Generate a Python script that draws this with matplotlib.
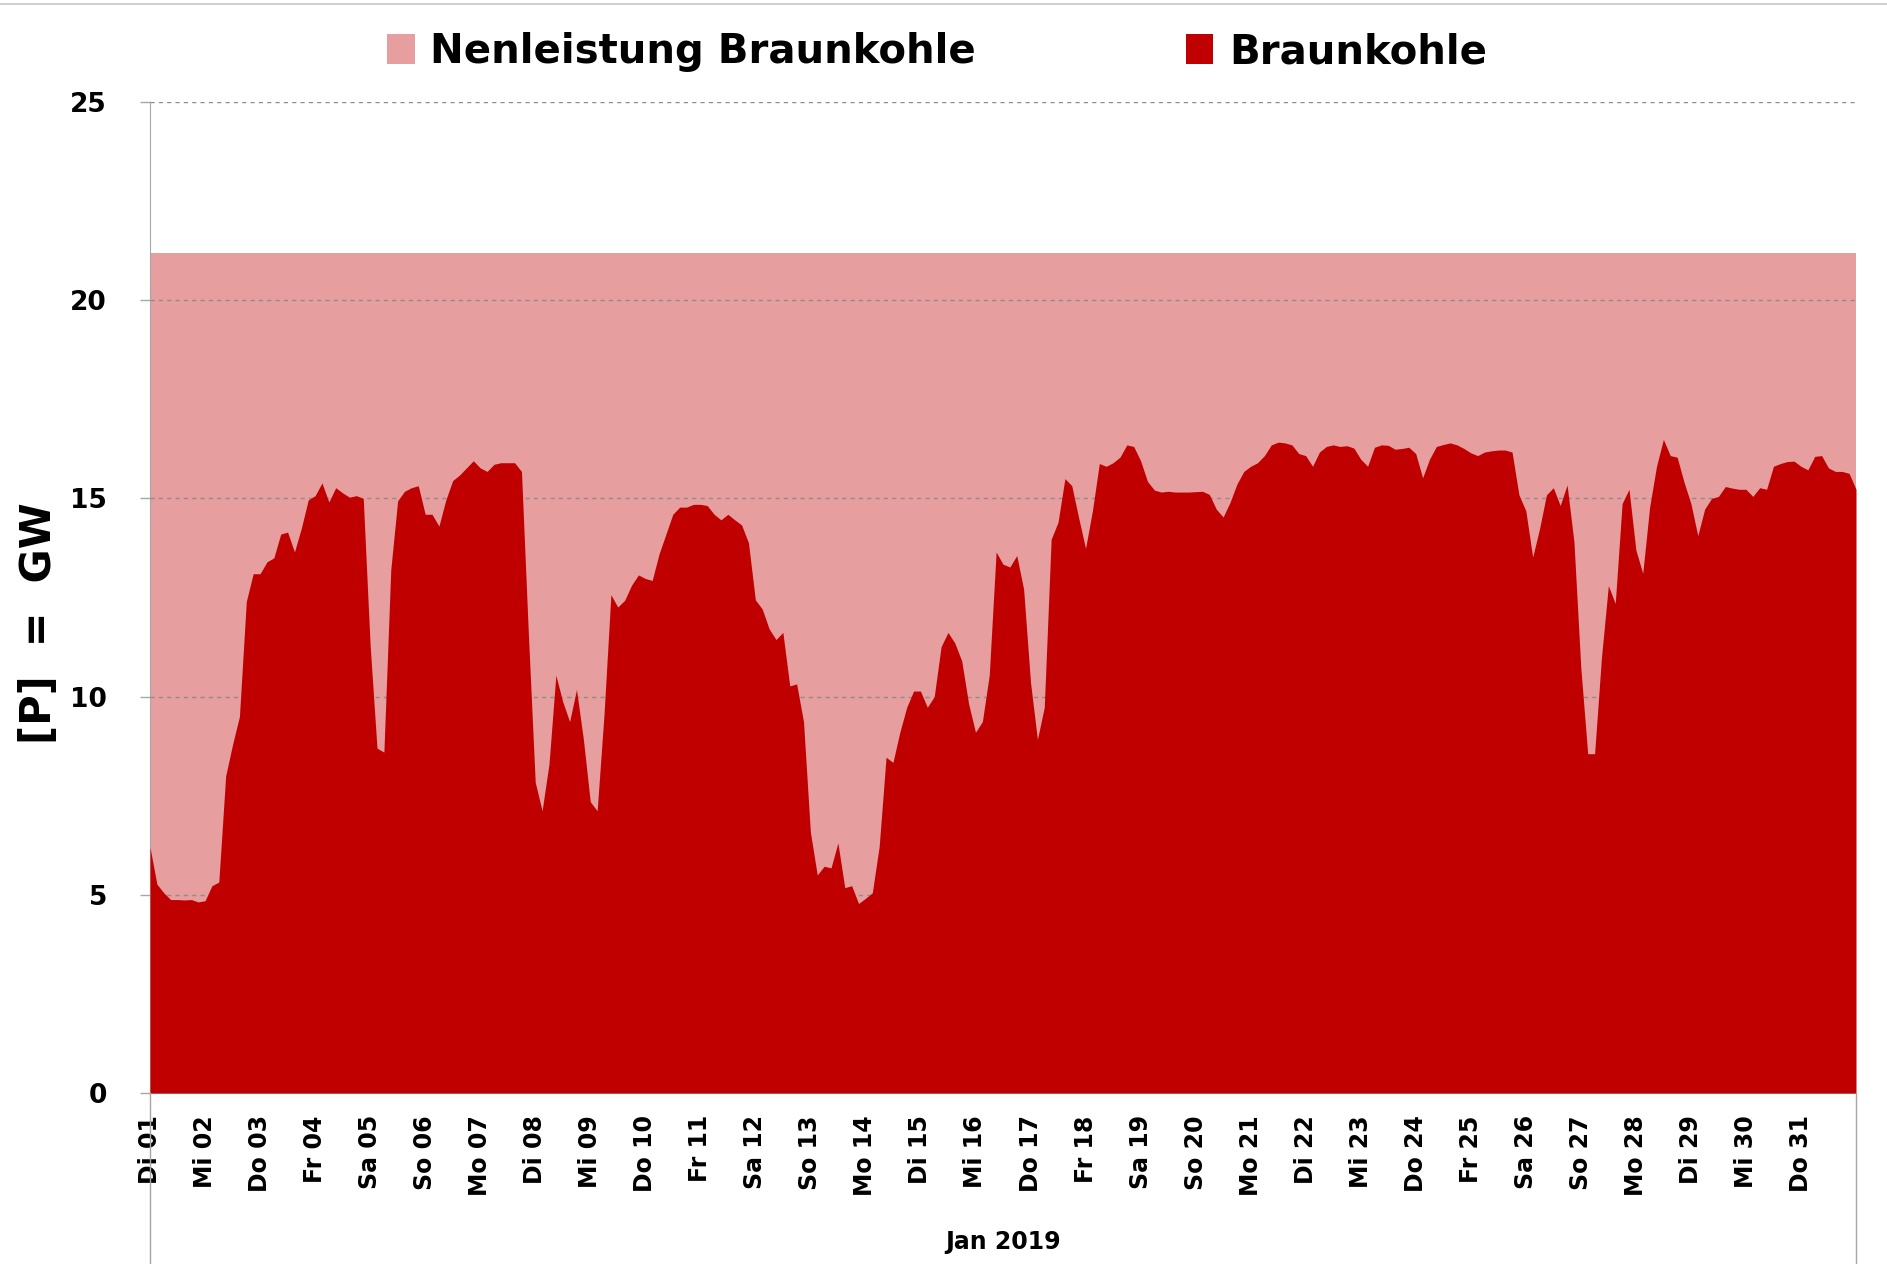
import numpy as np
import matplotlib.pyplot as plt
from matplotlib.patches import Patch
from matplotlib.lines import Line2D

# Tageslabels Januar 2019
tage = ['Di 01', 'Mi 02', 'Do 03', 'Fr 04', 'Sa 05', 'So 06', 'Mo 07', 'Di 08',
        'Mi 09', 'Do 10', 'Fr 11', 'Sa 12', 'So 13', 'Mo 14', 'Di 15', 'Mi 16',
        'Do 17', 'Fr 18', 'Sa 19', 'So 20', 'Mo 21', 'Di 22', 'Mi 23', 'Do 24',
        'Fr 25', 'Sa 26', 'So 27', 'Mo 28', 'Di 29', 'Mi 30', 'Do 31']

# installierte Leistung Braunkohle (GW), konstant
nennleistung = 21.2

braunkohle = [
    6.2, 5.27, 5.05, 4.88, 4.88, 4.87, 4.88, 4.82,
    4.85, 5.23, 5.32, 8.0, 8.79, 9.5, 12.4, 13.1,
    13.1, 13.4, 13.5, 14.1, 14.15, 13.65, 14.25, 14.96,
    15.07, 15.39, 14.91, 15.27, 15.14, 15.03, 15.07, 15.0,
    11.3, 8.7, 8.6, 13.2, 14.94, 15.18, 15.27, 15.32,
    14.6, 14.6, 14.3, 14.96, 15.45, 15.59, 15.77, 15.95,
    15.77, 15.68, 15.86, 15.9, 15.9, 15.9, 15.68, 11.6,
    7.84, 7.12, 8.3, 10.54, 9.87, 9.37, 10.18, 8.92,
    7.35, 7.12, 9.55, 12.57, 12.26, 12.43, 12.81, 13.07,
    12.98, 12.93, 13.6, 14.1, 14.6, 14.78, 14.78, 14.85,
    14.85, 14.82, 14.6, 14.46, 14.6, 14.46, 14.33, 13.88,
    12.44, 12.21, 11.71, 11.44, 11.62, 10.27, 10.32, 9.37,
    6.58, 5.5, 5.72, 5.68, 6.31, 5.18, 5.23, 4.78,
    4.91, 5.05, 6.22, 8.47, 8.34, 9.1, 9.73, 10.14,
    10.14, 9.73, 10.0, 11.26, 11.62, 11.35, 10.9, 9.82,
    9.1, 9.37, 10.54, 13.65, 13.34, 13.27, 13.56, 12.71,
    10.36, 8.92, 9.73, 13.97, 14.4, 15.5, 15.32, 14.51,
    13.74, 14.69, 15.88, 15.81, 15.9, 16.04, 16.35, 16.31,
    15.95, 15.43, 15.21, 15.16, 15.18, 15.16, 15.16, 15.16,
    15.17, 15.18, 15.1, 14.73, 14.53, 14.9, 15.36, 15.68,
    15.81, 15.9, 16.08, 16.35, 16.42, 16.4, 16.35, 16.13,
    16.08, 15.81, 16.17, 16.31, 16.35, 16.31, 16.33, 16.27,
    15.99, 15.81, 16.29, 16.35, 16.34, 16.24, 16.26, 16.29,
    16.13, 15.52, 15.99, 16.31, 16.36, 16.4, 16.35, 16.26,
    16.15, 16.08, 16.17, 16.2, 16.22, 16.22, 16.17, 15.09,
    14.69, 13.52, 14.24, 15.09, 15.27, 14.82, 15.34, 13.9,
    10.72, 8.56, 8.56, 10.99, 12.8, 12.35, 14.87, 15.23,
    13.7, 13.11, 14.78, 15.81, 16.49, 16.08, 16.04, 15.41,
    14.87, 14.06, 14.73, 15.0, 15.05, 15.3, 15.26, 15.23,
    15.23, 15.05, 15.27, 15.23, 15.81, 15.88, 15.93, 15.94,
    15.81, 15.72, 16.06, 16.08, 15.77, 15.68, 15.68, 15.63,
    15.23,
]

rot_hell = '#E79E9E'
rot = '#C00000'
grau = '#A6A6A6'

x = np.arange(len(braunkohle)) / 8.0  # Tage

fig = plt.figure(figsize=(18.87, 12.64), dpi=100)
ax = fig.add_axes([150 / 1887, 1 - 1093 / 1264, (1856 - 150) / 1887, (1093 - 102) / 1264])

ax.fill_between([0, 31], 0, nennleistung, color=rot_hell, linewidth=0, zorder=1)
ax.fill_between(x, 0, braunkohle, color=rot, linewidth=0, zorder=3)

ax.set_xlim(0, 31)
ax.set_ylim(0, 25)
ax.set_yticks([0, 5, 10, 15, 20, 25])
ax.yaxis.grid(True, linestyle=(0, (3, 3)), color='#8C8C8C', linewidth=1)
ax.set_axisbelow(False)

ax.set_xticks(np.arange(31))
ax.set_xticklabels(tage, rotation=90, va='top', ha='center')
ax.tick_params(axis='x', length=0, pad=16, labelsize=17, colors='black')
ax.tick_params(axis='y', length=7, width=1, color=grau, pad=24, labelsize=19)
for lab in ax.get_xticklabels() + ax.get_yticklabels():
    lab.set_fontweight('bold')

for s in ['top', 'right']:
    ax.spines[s].set_visible(False)
ax.spines['left'].set_color(grau)
ax.spines['bottom'].set_color(grau)

# Linien der Kategorieachse bis zum unteren Rand
fig.add_artist(Line2D([150 / 1887, 150 / 1887], [0, 1 - 1093 / 1264], color=grau, linewidth=1))
fig.add_artist(Line2D([1856 / 1887, 1856 / 1887], [0, 1 - 1093 / 1264], color=grau, linewidth=1))
fig.add_artist(Line2D([0, 1], [1 - 4 / 1264, 1 - 4 / 1264], color='#D0D0D0', linewidth=1.5))

fig.text(39 / 1887, 1 - 623 / 1264, '[P]  =  GW', rotation=90, ha='center', va='center',
         fontsize=30, fontweight='bold')
fig.text(1003 / 1887, 1 - 1242 / 1264, 'Jan 2019', ha='center', va='center',
         fontsize=17, fontweight='bold')

handles = [Patch(facecolor=rot_hell, edgecolor='none'), Patch(facecolor=rot, edgecolor='none')]
fig.legend(handles, ['Nenleistung Braunkohle', 'Braunkohle'], ncol=2, loc='center',
           bbox_to_anchor=(937 / 1887, 1 - 52 / 1264), frameon=False,
           prop={'weight': 'bold', 'size': 29},
           handlelength=0.69, handleheight=0.77, handletextpad=0.39, columnspacing=5.2)

fig.savefig('out.png', dpi=100, facecolor='white')
